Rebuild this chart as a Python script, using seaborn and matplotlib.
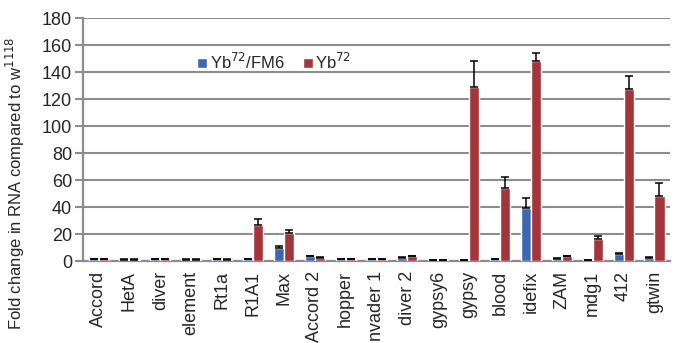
import numpy as np
import pandas as pd
import matplotlib
matplotlib.use("Agg")
import matplotlib.pyplot as plt
import seaborn as sns

# transposons on x axis
elements = ["Accord", "HetA", "diver", "element", "Rt1a", "R1A1", "Max", "Accord 2",
            "hopper", "Invader 1", "diver 2", "gypsy6", "gypsy", "blood", "idefix",
            "ZAM", "mdg1", "412", "gtwin"]
het_mean = [1.5, 1.0, 1.2, 1.0, 1.2, 1.5, 10.0, 3.5, 1.5, 1.5, 2.5, 0.8, 0.6, 1.5, 39.0,
            1.5, 0.6, 5.5, 2.5]
het_err = [0.3, 0.2, 0.3, 0.2, 0.3, 0.3, 0.8, 0.5, 0.3, 0.3, 0.4, 0.1, 0.1, 0.3, 7.5,
           0.4, 0.1, 0.8, 0.4]
mut_mean = [1.5, 1.0, 1.2, 1.0, 1.0, 27.0, 20.5, 2.5, 1.5, 1.5, 3.5, 0.8, 129.0, 54.0,
            148.0, 3.5, 16.0, 127.5, 48.0]
mut_err = [0.3, 0.2, 0.3, 0.2, 0.2, 4.0, 2.5, 0.4, 0.3, 0.3, 0.5, 0.1, 19.0, 8.5,
           6.5, 0.5, 2.8, 9.5, 9.5]
series = ["Yb$^{72}$/FM6", "Yb$^{72}$"]
colors = ["#3f67b1", "#a3363b"]

df = pd.DataFrame({
    "element": elements * 2,
    "value": het_mean + mut_mean,
    "err": het_err + mut_err,
    "genotype": [series[0]] * len(elements) + [series[1]] * len(elements),
})

sns.set_style("white")
plt.rcParams["font.family"] = ["Liberation Sans", "DejaVu Sans"]

fig = plt.figure(figsize=(6.76, 3.43), dpi=100)
ax = fig.add_axes([0.123, 0.239, 0.868, 0.708])

grey = "#8c8c8c"
sns.barplot(data=df, x="element", y="value", hue="genotype", palette=colors,
            errorbar=None, width=0.65, saturation=1, ax=ax, zorder=3)

# one-sided error bars on top of each bar
n = len(elements)
for i, bar in enumerate(ax.patches[:2 * n]):
    e = df["err"].iloc[i]
    xc = bar.get_x() + bar.get_width() / 2
    h = bar.get_height()
    ax.errorbar(xc, h, yerr=[[0], [e]], fmt="none", ecolor="black",
                elinewidth=1.1, capsize=2.9, capthick=1.1, zorder=4)

ax.set_ylim(0, 180)
ax.set_yticks(np.arange(0, 181, 20))
ax.set_xlim(-0.5, n - 0.5)
ax.yaxis.grid(True, color=grey, linewidth=1.5, zorder=0)
ax.set_axisbelow(True)

for s in ["top", "right"]:
    ax.spines[s].set_visible(False)
for s in ["left", "bottom"]:
    ax.spines[s].set_color(grey)
    ax.spines[s].set_linewidth(1.6)

ax.set_xlabel("")
ax.set_ylabel("Fold change in RNA compared to w$^{1118}$", fontsize=12)
ax.yaxis.set_label_coords(-0.095, 0.32)
ax.set_xticks(range(n))
ax.set_xticklabels(elements, rotation=90, fontsize=13)
ax.tick_params(axis="x", length=0, pad=7)
ax.set_xticks(np.arange(-0.5, n, 1), minor=True)
ax.tick_params(axis="x", which="minor", length=4.5, width=1.5, color=grey, direction="out")
ax.tick_params(axis="y", length=6, width=1.5, color=grey, labelsize=13, pad=2,
               left=True, direction="out")

ax.legend(loc="center left", bbox_to_anchor=(0.183, 0.82), frameon=False, fontsize=12,
          handlelength=0.6, handleheight=0.6, handletextpad=0.15, columnspacing=1.1,
          ncol=2, borderaxespad=0)

fig.savefig("out.png", dpi=100)
